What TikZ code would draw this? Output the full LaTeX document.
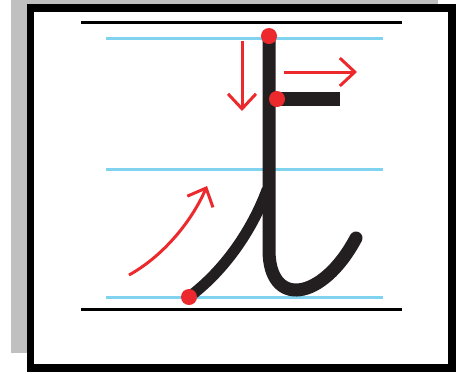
\documentclass[tikz,border=0pt]{standalone}
\usepackage{tikz}
\usetikzlibrary{arrows.meta,calc,positioning}
\definecolor{guideBlue} {HTML}{7FD3EE}
\definecolor{markRed}   {HTML}{EC2A2E}
\definecolor{inkBlack}  {HTML}{231F20}
\definecolor{shadowGray}{HTML}{C0C0C0}

\begin{document}
\begin{tikzpicture}[x=1pt, y=-1pt,
        rule/.style={line width=3pt, black},
        guide/.style={line width=3pt, guideBlue},
        ink/.style={line width=13pt, inkBlack},
        dot/.style={circle, fill=markRed, inner sep=0pt, minimum size=16pt},
        ar/.style={-{Straight Barb[length=15pt, width=28pt]}, line width=3pt, markRed}
    ]
        \useasboundingbox (0,0) rectangle (465,373);
        % frame
        \fill[shadowGray] (11,0) rectangle (438,353);
        \draw[line width=7.5pt, fill=white] (30.5,8) rectangle (452,368);
        % ruling
        \draw[rule] (81,22) -- (402,22);
        \draw[rule] (81,309) -- (402,309);
        \foreach \y in {38,169,297}
            \draw[guide] (106,\y) -- (383,\y);
        % letter
        \coordinate (top) at (269,36);
        \coordinate (bar) at (277,99);
        \coordinate (start) at (189,297);
        \draw[ink, line width=11pt, line cap=round] (start) .. controls (225,270) and (252,230) .. (267,190);
        \draw[ink, line cap=round] (top) -- (269,250) .. controls (269,308) and (322,302) .. (356,238);
        \draw[ink, line width=14pt] (bar) -- (340,99);
        \node[dot] (p1) at (top) {};
        \node[dot] (p2) at (bar) {};
        \node[dot] (p3) at (start) {};
        % direction marks
        \draw[ar] (242,41) -- (242,111);
        \draw[ar] (284,72) -- (357,72);
        \draw[ar] (129,275) .. controls (160,258) and (190,225) .. (207,186);
    \end{tikzpicture}
\end{document}
